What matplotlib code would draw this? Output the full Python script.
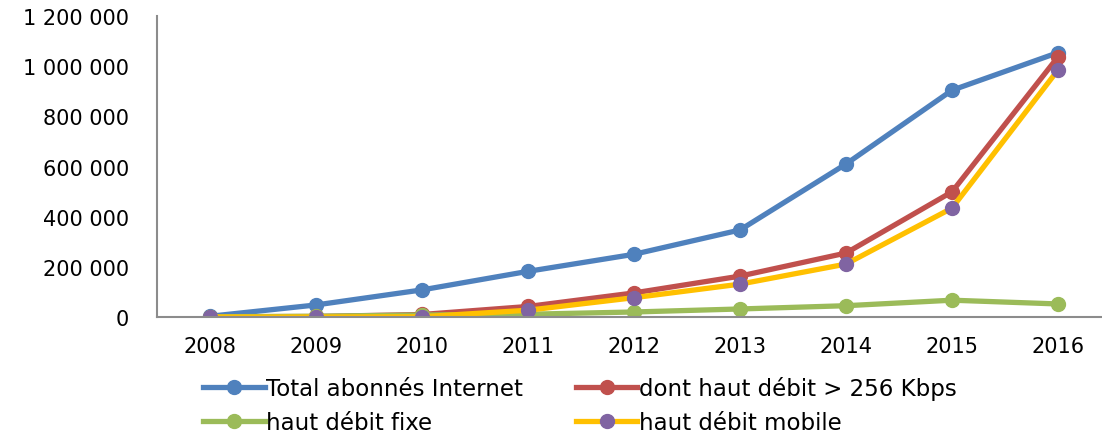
import matplotlib
matplotlib.use("Agg")
import matplotlib.pyplot as plt
from matplotlib.ticker import FuncFormatter, MultipleLocator

years = [2008, 2009, 2010, 2011, 2012, 2013, 2014, 2015, 2016]
total = [3000, 48000, 108000, 182000, 250000, 347000, 610000, 904000, 1054000]
haut_debit = [1000, 2000, 10000, 42000, 96000, 163000, 255000, 499000, 1037000]
fixe = [1000, 3000, 8000, 11000, 20000, 32000, 45000, 67000, 52000]
mobile = [0, 0, 1000, 27000, 77000, 131000, 211000, 434000, 985000]

labels = ["Total abonnés Internet", "dont haut débit > 256 Kbps",
          "haut débit fixe", "haut débit mobile"]

plt.rcParams['font.family'] = ['DejaVu Sans']

fig = plt.figure(figsize=(11.02, 4.39), dpi=100)
ax = fig.add_axes([157/1102, 1-318/439, 954/1102, 301/439])

lw = 3.8
ms = 10
l1, = ax.plot(years, total, color='#4F81BD', lw=lw, marker='o', ms=ms, mfc='#4F81BD', mec='#4F81BD', label=labels[0])
l2, = ax.plot(years, haut_debit, color='#C0504D', lw=lw, marker='o', ms=ms, mfc='#C0504D', mec='#C0504D', label=labels[1])
l3, = ax.plot(years, fixe, color='#9BBB59', lw=lw, marker='o', ms=ms, mfc='#9BBB59', mec='#9BBB59', label=labels[2])
l4, = ax.plot(years, mobile, color='#FFC000', lw=lw, marker='o', ms=ms, mfc='#8064A2', mec='#8064A2', label=labels[3])

ax.set_xlim(2007.5, 2016.5)
ax.set_ylim(0, 1200000)
ax.set_xticks(years)
ax.yaxis.set_major_locator(MultipleLocator(200000))
ax.yaxis.set_major_formatter(FuncFormatter(lambda v, p: f"{int(v):,}".replace(",", " ")))
ax.tick_params(axis='both', length=0, labelsize=15, colors='black')
ax.tick_params(axis='y', pad=20)
ax.tick_params(axis='x', pad=14)
for s in ['top', 'right']:
    ax.spines[s].set_visible(False)
for s in ['left', 'bottom']:
    ax.spines[s].set_color('#8C8C8C')
    ax.spines[s].set_linewidth(1.5)

fig.legend([l1, l3, l2, l4], [labels[0], labels[2], labels[1], labels[3]],
           loc='upper left', bbox_to_anchor=(203/1102, 1-377/439), ncol=2, frameon=False,
           fontsize=16.5, handlelength=2.7, handletextpad=0.05, columnspacing=2.3,
           labelspacing=0.5, borderaxespad=0, borderpad=0)

fig.savefig("out.png", dpi=100)
